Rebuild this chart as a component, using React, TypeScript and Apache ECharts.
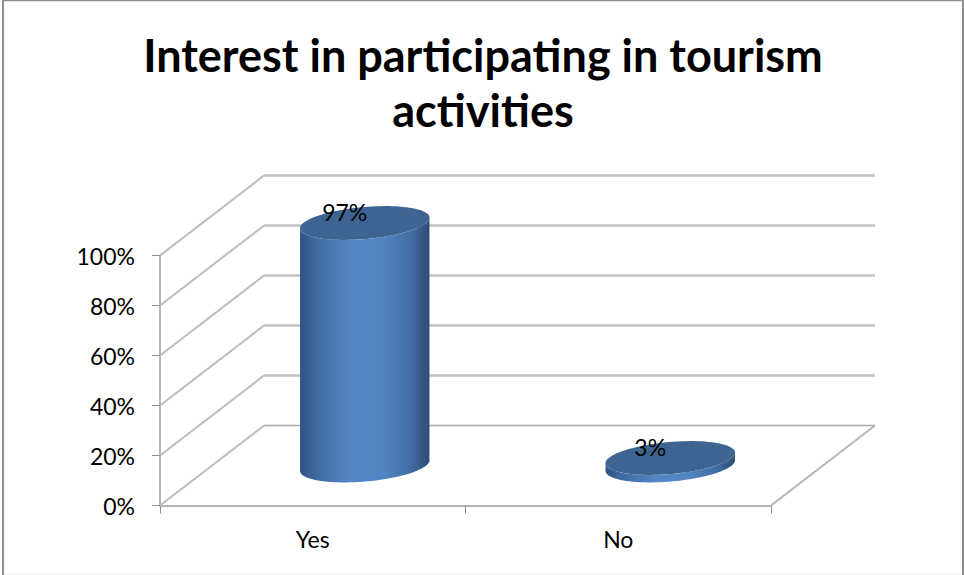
import React, { useEffect, useRef } from "react";
import * as echarts from "echarts";

const titleText = "Interest in participating in tourism\nactivities";
const categories = ["Yes", "No"];
const shares = [97, 3];
const gridTicks = [0, 20, 40, 60, 80, 100];

const FONT = "Lato, 'Open Sans', sans-serif";
// Perspective offset from the front plane of the box to its back wall.
const DEPTH_X = 104;
const DEPTH_Y = -80;
const RX = 65;
const RY = 16;
const TILT = (5 * Math.PI) / 180;

// Outline point of the tilted ellipse that closes a cylinder.
function rim(cx: number, cy: number, t: number): number[] {
  const ex = RX * Math.cos(t);
  const ey = RY * Math.sin(t);
  return [cx + ex * Math.cos(TILT) + ey * Math.sin(TILT), cy - ex * Math.sin(TILT) + ey * Math.cos(TILT)];
}

function ellipsePoints(cx: number, cy: number): number[][] {
  const pts: number[][] = [];
  for (let i = 0; i < 96; i++) pts.push(rim(cx, cy, (i / 96) * Math.PI * 2));
  return pts;
}

function bodyPoints(cx: number, baseY: number, topY: number): number[][] {
  const start = Math.atan2(RY * Math.sin(TILT), RX * Math.cos(TILT));
  const pts: number[][] = [];
  for (let i = 0; i <= 48; i++) pts.push(rim(cx, baseY, -start + (i / 48) * Math.PI));
  for (let i = 48; i >= 0; i--) pts.push(rim(cx, topY, -start + (i / 48) * Math.PI));
  return pts;
}

const bodyFill = {
  type: "linear",
  x: 0,
  y: 0,
  x2: 1,
  y2: 0,
  colorStops: [
    { offset: 0, color: "#31527f" },
    { offset: 0.12, color: "#3f6a9f" },
    { offset: 0.4, color: "#5587c6" },
    { offset: 0.65, color: "#5284c2" },
    { offset: 0.86, color: "#416da3" },
    { offset: 1, color: "#2e4a72" },
  ],
};

function renderWall(params: any, api: any) {
  const box = params.coordSys;
  const tick = api.value(1);
  const y = api.coord([0, tick])[1];
  const stroke = tick === 0 ? "#a9a9a9" : "#c2c2c2";
  const width = tick === 0 ? 1.5 : 2.5;
  const children: any[] = [
    {
      type: "line",
      shape: { x1: box.x, y1: y, x2: box.x + DEPTH_X, y2: y + DEPTH_Y },
      style: { stroke: "#bcbcbc", lineWidth: 2 },
    },
    {
      type: "line",
      shape: { x1: box.x + DEPTH_X, y1: y + DEPTH_Y, x2: box.x + box.width + DEPTH_X, y2: y + DEPTH_Y },
      style: { stroke, lineWidth: width },
    },
  ];
  if (tick === 0) {
    children.push({
      type: "line",
      shape: { x1: box.x + box.width, y1: y, x2: box.x + box.width + DEPTH_X, y2: y + DEPTH_Y },
      style: { stroke: "#b5b5b5", lineWidth: 2 },
    });
  }
  return { type: "group", children };
}

function renderCylinder(params: any, api: any) {
  const value = api.value(1);
  const front = api.coord([api.value(0), 0]);
  const head = api.coord([api.value(0), value]);
  const cx = front[0] + DEPTH_X / 2;
  const baseY = front[1] + DEPTH_Y / 2;
  const topY = head[1] + DEPTH_Y / 2;
  return {
    type: "group",
    children: [
      { type: "polygon", shape: { points: bodyPoints(cx, baseY, topY) }, style: { fill: bodyFill } },
      { type: "polygon", shape: { points: ellipsePoints(cx, topY) }, style: { fill: "#3e6592" } },
      {
        type: "text",
        style: {
          x: cx - 20,
          y: topY - 11,
          text: `${value}%`,
          fill: "#000",
          font: `23px ${FONT}`,
          align: "center",
          verticalAlign: "middle",
        },
      },
    ],
  };
}

const frameLine = (x1: number, y1: number, x2: number, y2: number, stroke: string, lineWidth: number) => ({
  type: "line",
  shape: { x1, y1, x2, y2 },
  style: { stroke, lineWidth },
  silent: true,
});

export default function App() {
  const ref = useRef<HTMLDivElement>(null);
  useEffect(() => {
    document.body.style.margin = "0";
    const chart = echarts.init(ref.current!, null, { renderer: "svg" });
    chart.setOption({
      animation: false,
      backgroundColor: "#fff",
      title: {
        text: titleText,
        left: 478,
        top: 22,
        textAlign: "center",
        textStyle: { fontFamily: FONT, fontSize: 45, fontWeight: "bold", color: "#000", lineHeight: 55 },
      },
      grid: { left: 160, top: 255.5, width: 611, height: 250 },
      xAxis: {
        type: "category",
        data: categories,
        axisLine: { lineStyle: { color: "#b5b5b5", width: 2 } },
        axisTick: { show: true, length: 8, lineStyle: { color: "#8f8f8f", width: 1 } },
        axisLabel: { color: "#000", fontFamily: FONT, fontSize: 23, margin: 22 },
      },
      yAxis: {
        type: "value",
        min: 0,
        max: 100,
        interval: 20,
        splitLine: { show: false },
        axisLine: { show: true, lineStyle: { color: "#b5b5b5", width: 2 } },
        axisTick: { show: true, length: 8, lineStyle: { color: "#8f8f8f", width: 1 } },
        axisLabel: { color: "#000", fontFamily: FONT, fontSize: 23, margin: 25, formatter: "{value}%" },
      },
      graphic: [
        frameLine(3, 0, 3, 575, "#8e8e8e", 2),
        frameLine(3, 0.5, 964, 0.5, "#8e8e8e", 1.5),
        frameLine(963, 0, 963, 575, "#8e8e8e", 2),
        frameLine(4, 574.5, 962, 574.5, "#eeeeee", 1),
      ],
      series: [
        {
          type: "custom",
          renderItem: renderWall,
          data: gridTicks.map((t) => [0, t]),
          encode: { x: 0, y: 1 },
          z: 1,
          silent: true,
        },
        {
          type: "custom",
          renderItem: renderCylinder,
          data: categories.map((c, i) => [i, shares[i]]),
          encode: { x: 0, y: 1 },
          z: 3,
          silent: true,
        },
      ],
    });
    return () => chart.dispose();
  }, []);
  return <div ref={ref} style={{ width: 964, height: 575 }} />;
}
